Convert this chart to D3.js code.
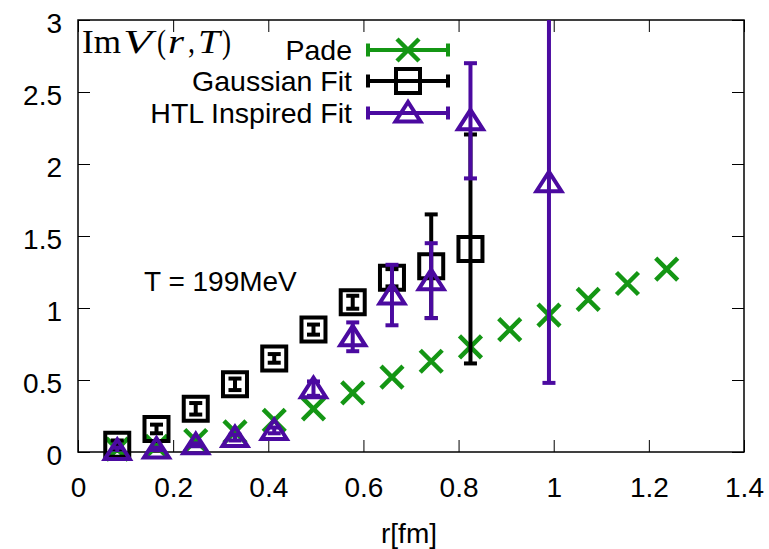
<!DOCTYPE html>
<html>
<head>
<meta charset="utf-8">
<script src="https://cdn.jsdelivr.net/npm/d3@7"></script>
<style>
  html, body { margin: 0; padding: 0; background: #fff; }
  svg { display: block; }
  text { font-family: "Liberation Sans", Arial, sans-serif; fill: #000; }
  text.math { font-family: "Liberation Serif", "DejaVu Serif", serif; font-size: 33px; }
</style>
</head>
<body>
<svg id="chart" width="769" height="549"></svg>
<script>
// Separation r [fm] on the lattice
const rPade = [0.0825, 0.165, 0.2475, 0.33, 0.4125, 0.495, 0.5775, 0.66, 0.7425, 0.825, 0.9075, 0.99, 1.0725, 1.155, 1.2375];
const imPade = [0.02, 0.04, 0.08, 0.14, 0.22, 0.30, 0.41, 0.52, 0.63, 0.73, 0.85, 0.95, 1.06, 1.17, 1.27];

const rGauss = [0.0825, 0.165, 0.2475, 0.33, 0.4125, 0.495, 0.5775, 0.66, 0.7425, 0.825];
const imGauss = [0.05, 0.16, 0.30, 0.47, 0.65, 0.85, 1.04, 1.21, 1.29, 1.41];
const errGauss = [0.03, 0.03, 0.04, 0.04, 0.03, 0.035, 0.045, 0.06, 0.36, 0.795];

const rHTL = [0.0825, 0.165, 0.2475, 0.33, 0.4125, 0.495, 0.5775, 0.66, 0.7425, 0.825, 0.99];
const imHTL = [0.01, 0.02, 0.05, 0.10, 0.15, 0.44, 0.80, 1.09, 1.19, 2.30, 1.87];
const errHTL = [0.02, 0.01, 0.01, 0.02, 0.02, 0.05, 0.10, 0.21, 0.26, 0.40, 1.39];

const xTicks = [0, 0.2, 0.4, 0.6, 0.8, 1, 1.2, 1.4];
const yTicks = [0, 0.5, 1, 1.5, 2, 2.5, 3];

const seriesNames = ["Pade", "Gaussian Fit", "HTL Inspired Fit"];
const colors = { pade: "#149614", gauss: "#000000", htl: "#4b0aa0" };

const W = 769, H = 549;
const M = { left: 78, right: 744, top: 20, bottom: 452 };

const svg = d3.select("#chart");
svg.append("rect").attr("width", W).attr("height", H).attr("fill", "#fff");

const x = d3.scaleLinear().domain([0, 1.4]).range([M.left, M.right]);
const y = d3.scaleLinear().domain([0, 3]).range([M.bottom, M.top]);

svg.append("defs").append("clipPath").attr("id", "plotClip")
  .append("rect").attr("x", M.left).attr("y", M.top)
  .attr("width", M.right - M.left).attr("height", M.bottom - M.top);

// Axes with inward ticks on all four sides
const tickLen = 12;
const fmt = d => String(d);
const axisStyle = g => {
  g.select(".domain").remove();
  g.selectAll(".tick line").attr("stroke", "#000").attr("stroke-width", 1);
  g.selectAll(".tick text").style("font-size", "28px").attr("fill", "#000");
};
svg.append("g").attr("transform", `translate(0,${M.bottom})`)
  .call(d3.axisBottom(x).tickValues(xTicks).tickFormat(fmt).tickSizeInner(-tickLen).tickPadding(24))
  .call(axisStyle)
  .call(g => g.selectAll(".tick text").attr("dy", null).attr("y", 45));
svg.append("g").attr("transform", `translate(0,${M.top})`)
  .call(d3.axisTop(x).tickValues(xTicks).tickFormat("").tickSizeInner(-tickLen))
  .call(axisStyle);
svg.append("g").attr("transform", `translate(${M.left},0)`)
  .call(d3.axisLeft(y).tickValues(yTicks).tickFormat(fmt).tickSizeInner(-tickLen))
  .call(axisStyle)
  .call(g => g.selectAll(".tick text").attr("dy", null).attr("x", -16).attr("y", 12));
svg.append("g").attr("transform", `translate(${M.right},0)`)
  .call(d3.axisRight(y).tickValues(yTicks).tickFormat("").tickSizeInner(-tickLen))
  .call(axisStyle);

// Plot border
svg.append("rect").attr("x", M.left).attr("y", M.top)
  .attr("width", M.right - M.left).attr("height", M.bottom - M.top)
  .attr("fill", "none").attr("stroke", "#000").attr("stroke-width", 1.5);

// Axis title
svg.append("text").attr("x", (M.left + M.right) / 2 - 2).attr("y", 543)
  .attr("text-anchor", "middle").style("font-size", "28px").text("r[fm]");

// Marker shapes
const cross = s => `M${-s},${-s}L${s},${s}M${-s},${s}L${s},${-s}`;
const square = s => `M${-s},${-s}H${s}V${s}H${-s}Z`;
const triangle = () => `M0,-11L-12.5,8.5L12.5,8.5Z`;

const capW = 6.5;
function errorBars(g, rs, vals, errs, color) {
  const eb = g.append("g").attr("clip-path", "url(#plotClip)")
    .attr("stroke", color).attr("stroke-width", 4).attr("fill", "none");
  rs.forEach((r, i) => {
    const cx = x(r), y1 = y(vals[i] - errs[i]), y2 = y(vals[i] + errs[i]);
    eb.append("line").attr("x1", cx).attr("x2", cx).attr("y1", y1).attr("y2", y2);
    eb.append("line").attr("x1", cx - capW).attr("x2", cx + capW).attr("y1", y1).attr("y2", y1);
    eb.append("line").attr("x1", cx - capW).attr("x2", cx + capW).attr("y1", y2).attr("y2", y2);
  });
}

// Pade
const gP = svg.append("g");
gP.selectAll("path").data(rPade).join("path")
  .attr("transform", (r, i) => `translate(${x(r)},${y(imPade[i])})`)
  .attr("d", cross(11)).attr("stroke", colors.pade).attr("stroke-width", 4.5).attr("fill", "none");

// Gaussian fit
const gG = svg.append("g");
errorBars(gG, rGauss, imGauss, errGauss, colors.gauss);
gG.selectAll("path.m").data(rGauss).join("path").attr("class", "m")
  .attr("transform", (r, i) => `translate(${x(r)},${y(imGauss[i])})`)
  .attr("d", square(12)).attr("stroke", colors.gauss).attr("stroke-width", 4).attr("fill", "none");

// HTL inspired fit
const gH = svg.append("g");
errorBars(gH, rHTL, imHTL, errHTL, colors.htl);
gH.selectAll("path.m").data(rHTL).join("path").attr("class", "m")
  .attr("transform", (r, i) => `translate(${x(r)},${y(imHTL[i])})`)
  .attr("d", triangle()).attr("stroke", colors.htl).attr("stroke-width", 4)
  .attr("stroke-linejoin", "miter").attr("fill", "none");

// Legend
const legRows = [
  { name: seriesNames[0], color: colors.pade, shape: cross(11), sw: 4.5, cy: 50 },
  { name: seriesNames[1], color: colors.gauss, shape: square(12), sw: 4, cy: 81 },
  { name: seriesNames[2], color: colors.htl, shape: triangle(), sw: 4, cy: 113 }
];
const leg = svg.append("g");
legRows.forEach(d => {
  leg.append("text").attr("x", 352).attr("y", d.cy + 10)
    .attr("text-anchor", "end").style("font-size", "28.5px").text(d.name);
  const g = leg.append("g").attr("stroke", d.color).attr("fill", "none");
  g.append("line").attr("x1", 368).attr("x2", 448).attr("y1", d.cy).attr("y2", d.cy).attr("stroke-width", 4);
  g.append("line").attr("x1", 368).attr("x2", 368).attr("y1", d.cy - capW).attr("y2", d.cy + capW).attr("stroke-width", 4);
  g.append("line").attr("x1", 448).attr("x2", 448).attr("y1", d.cy - capW).attr("y2", d.cy + capW).attr("stroke-width", 4);
  g.append("path").attr("transform", `translate(408,${d.cy})`).attr("d", d.shape).attr("stroke-width", d.sw);
});

// Math label: Im V(r, T), each glyph set at its own position and width
const mathLabel = svg.append("g");
[
  { t: "Im", x: 82, w: 39, it: false },
  { t: "V", x: 123, w: 29, it: true },
  { t: "(", x: 157, w: 9, it: false },
  { t: "r", x: 168, w: 16, it: true },
  { t: ",", x: 188, w: 7, it: false },
  { t: "T", x: 198, w: 22, it: true },
  { t: ")", x: 222, w: 9, it: false }
].forEach(p => {
  mathLabel.append("text").attr("class", "math").attr("x", p.x).attr("y", 53)
    .attr("textLength", p.w).attr("lengthAdjust", "spacingAndGlyphs")
    .style("font-style", p.it ? "italic" : "normal").text(p.t);
});

svg.append("text").attr("x", 144).attr("y", 291).style("font-size", "28px").text("T = 199MeV");
</script>
</body>
</html>
